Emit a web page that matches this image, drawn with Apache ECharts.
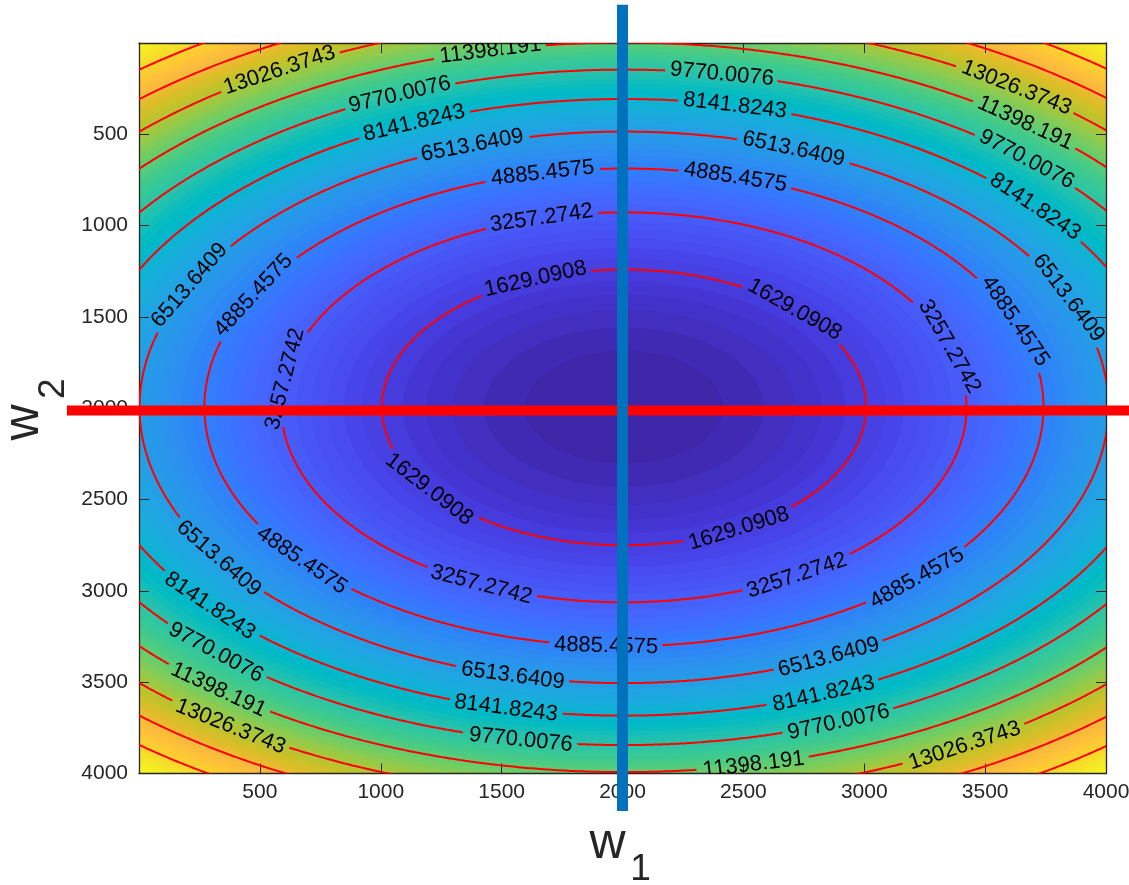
<!DOCTYPE html>
<html>
<head>
<meta charset="utf-8">
<script src="https://cdn.jsdelivr.net/npm/echarts@6/dist/echarts.min.js"></script>
<style>
  html, body { margin: 0; padding: 0; background: #fff; }
  #main { width: 1129px; height: 885px; }
</style>
</head>
<body>
<div id="main"></div>
<script>
// contour values printed on the plot (last two are the unlabelled corner lines)
const contourLevels = [1629.0908, 3257.2742, 4885.4575, 6513.6409, 8141.8243,
  9770.0076, 11398.191, 13026.3743, 14654.5577, 16282.741];
// lowest / highest value of the surface -> colour range
const fieldMin = 0.9074;
const fieldMax = 17910.92;
// filled bands between fieldMin and fieldMax (6 per labelled contour)
const fillBandCount = 66;
// centre of the bowl and half axes (w1, w2) of the first contour
const bowlCentre = [2006, 1995];
const firstContourAxes = [1002, 755];
// axis ticks
const tickValues = [0, 500, 1000, 1500, 2000, 2500, 3000, 3500, 4000];
// where the contour labels sit: [contour index, w1, w2]
const labelAnchors = [
  [0, 1651, 1313], [0, 2689, 1477], [0, 1217, 2435], [0, 2478, 2654],
  [1, 1672, 979], [1, 3326, 1669], [1, 646, 1844], [1, 1416, 2966], [1, 2718, 2912],
  [2, 1672, 721], [2, 2462, 749], [2, 3595, 1532], [2, 493, 1389], [2, 679, 2830], [2, 1932, 3300], [2, 3214, 2928],
  [3, 1382, 568], [3, 2706, 584], [3, 3814, 1406], [3, 233, 1335], [3, 337, 2819], [3, 1548, 3459], [3, 2855, 3366],
  [4, 1143, 447], [4, 2462, 354], [4, 3698, 902], [4, 287, 3087], [4, 1519, 3640], [4, 2834, 3569],
  [5, 1085, 294], [5, 2408, 185], [5, 3669, 639], [5, 316, 3339], [5, 1577, 3826], [5, 2896, 3722],
  [6, 1457, 53], [6, 3657, 447], [6, 328, 3542], [6, 2540, 3941],
  [7, 588, 157], [7, 3620, 256], [7, 378, 3744], [7, 3421, 3855]
];
// the two thick guide lines: [w1 start, w2 start, w1 end, w2 end]
const horizontalGuide = [-298, 2012, 4300, 2012];
const verticalGuide = [2000, -210, 2000, 4205];

// parula, 64 entries
const parulaMap = [
  [0.2422,0.1504,0.6603],[0.2504,0.1650,0.7076],[0.2578,0.1818,0.7511],[0.2647,0.1978,0.7952],
  [0.2706,0.2147,0.8364],[0.2751,0.2342,0.8710],[0.2783,0.2559,0.8991],[0.2803,0.2782,0.9221],
  [0.2813,0.3006,0.9414],[0.2810,0.3228,0.9579],[0.2795,0.3447,0.9717],[0.2760,0.3667,0.9829],
  [0.2699,0.3892,0.9906],[0.2602,0.4123,0.9952],[0.2440,0.4358,0.9988],[0.2206,0.4603,0.9973],
  [0.1963,0.4847,0.9892],[0.1834,0.5074,0.9798],[0.1786,0.5289,0.9682],[0.1764,0.5499,0.9520],
  [0.1687,0.5703,0.9359],[0.1540,0.5902,0.9218],[0.1460,0.6091,0.9079],[0.1380,0.6276,0.8973],
  [0.1248,0.6459,0.8883],[0.1113,0.6635,0.8763],[0.0952,0.6798,0.8598],[0.0689,0.6948,0.8394],
  [0.0297,0.7082,0.8163],[0.0036,0.7203,0.7917],[0.0067,0.7312,0.7660],[0.0433,0.7411,0.7394],
  [0.0964,0.7500,0.7120],[0.1408,0.7584,0.6842],[0.1717,0.7670,0.6554],[0.1938,0.7758,0.6251],
  [0.2161,0.7843,0.5923],[0.2470,0.7918,0.5567],[0.2906,0.7973,0.5188],[0.3406,0.8008,0.4789],
  [0.3909,0.8029,0.4354],[0.4456,0.8024,0.3909],[0.5044,0.7993,0.3480],[0.5616,0.7942,0.3045],
  [0.6174,0.7876,0.2612],[0.6720,0.7793,0.2227],[0.7242,0.7698,0.1910],[0.7738,0.7598,0.1646],
  [0.8203,0.7498,0.1535],[0.8634,0.7406,0.1596],[0.9035,0.7330,0.1774],[0.9393,0.7288,0.2100],
  [0.9728,0.7298,0.2394],[0.9956,0.7434,0.2371],[0.9970,0.7659,0.2199],[0.9952,0.7893,0.2028],
  [0.9892,0.8136,0.1885],[0.9786,0.8386,0.1766],[0.9676,0.8639,0.1643],[0.9610,0.8890,0.1537],
  [0.9597,0.9135,0.1423],[0.9628,0.9373,0.1265],[0.9691,0.9606,0.1064],[0.9769,0.9839,0.0805]
];

function parula(t) {
  t = Math.min(1, Math.max(0, t));
  const x = t * (parulaMap.length - 1);
  const i = Math.min(parulaMap.length - 2, Math.floor(x));
  const f = x - i;
  const c = parulaMap[i].map((v, j) => Math.round(255 * (v + (parulaMap[i + 1][j] - v) * f)));
  return 'rgb(' + c.join(',') + ')';
}

const fontFamily = '"Liberation Sans", Arial, Helvetica, sans-serif';
const labelFont = '22px ' + fontFamily;
const measureCtx = document.createElement('canvas').getContext('2d');
measureCtx.font = labelFont;

const bandStep = (fieldMax - fieldMin) / fillBandCount;
const bandIndex = [];
for (let b = fillBandCount; b >= 1; b--) bandIndex.push(b);

// half axes of the ellipse where the surface equals `level`
function ellipseAxes(level) {
  const s = Math.sqrt((level - fieldMin) / (contourLevels[0] - fieldMin));
  return [firstContourAxes[0] * s, firstContourAxes[1] * s];
}

function renderBand(params, api) {
  const b = bandIndex[params.dataIndex];
  const r = ellipseAxes(fieldMin + b * bandStep);
  const pts = [];
  const n = 360;
  for (let i = 0; i < n; i++) {
    const t = i / n * 2 * Math.PI;
    pts.push(api.coord([bowlCentre[0] + r[0] * Math.cos(t), bowlCentre[1] + r[1] * Math.sin(t)]));
  }
  return {
    type: 'polygon',
    shape: { points: pts },
    style: { fill: parula((b - 1) / fillBandCount), stroke: null }
  };
}

function renderContour(params, api) {
  const k = params.dataIndex;
  const level = contourLevels[k];
  const r = ellipseAxes(level);
  const cx = bowlCentre[0], cy = bowlCentre[1];
  const at = t => api.coord([cx + r[0] * Math.cos(t), cy + r[1] * Math.sin(t)]);
  const text = String(level);
  const halfW = measureCtx.measureText(text).width / 2 + 4;
  const halfH = 10;
  const boxes = [];
  const texts = [];
  labelAnchors.forEach(a => {
    if (a[0] !== k) return;
    const t = Math.atan2((a[2] - cy) / r[1], (a[1] - cx) / r[0]);
    const p = at(t);
    const p1 = at(t - 0.002), p2 = at(t + 0.002);
    let dx = p2[0] - p1[0], dy = p2[1] - p1[1];
    if (dx < 0) { dx = -dx; dy = -dy; }
    const len = Math.hypot(dx, dy);
    const ux = dx / len, uy = dy / len;
    boxes.push({ p: p, ux: ux, uy: uy });
    texts.push({
      type: 'text',
      x: p[0], y: p[1],
      rotation: -Math.atan2(uy, ux),
      z2: 10,
      style: { text: text, font: labelFont, fill: '#000', textAlign: 'center', textVerticalAlign: 'middle' }
    });
  });

  const n = 1440;
  const runs = [];
  let run = [];
  let firstStart = false, lastEnd = false;
  for (let i = 0; i <= n; i++) {
    const q = at(i / n * 2 * Math.PI);
    const hidden = boxes.some(bx => {
      const ex = q[0] - bx.p[0], ey = q[1] - bx.p[1];
      return Math.abs(ex * bx.ux + ey * bx.uy) < halfW && Math.abs(-ex * bx.uy + ey * bx.ux) < halfH;
    });
    if (hidden) {
      if (run.length > 1) runs.push(run);
      run = [];
    } else {
      if (i === 0) firstStart = true;
      run.push(q);
      if (i === n) lastEnd = true;
    }
  }
  if (run.length > 1) runs.push(run);
  if (firstStart && lastEnd && runs.length > 1) {
    const last = runs.pop();
    runs[0] = last.concat(runs[0].slice(1));
  }
  const lines = runs.map(pts => ({
    type: 'polyline',
    shape: { points: pts },
    style: { stroke: '#ff0000', lineWidth: 2, fill: null }
  }));
  return { type: 'group', children: lines.concat(texts) };
}

// thick guide line from one data point to another, not clipped to the axes box
function renderGuide(params, api) {
  const a = api.coord([api.value(0), api.value(1)]);
  const b = api.coord([api.value(2), api.value(3)]);
  return {
    type: 'line',
    shape: { x1: a[0], y1: a[1], x2: b[0], y2: b[1] },
    style: { stroke: params.dataIndex === 0 ? '#ff0000' : '#0072bd', lineWidth: params.dataIndex === 0 ? 10 : 11, lineCap: 'butt' }
  };
}

const axisCommon = {
  type: 'value',
  min: tickValues[0],
  max: tickValues[tickValues.length - 1],
  interval: tickValues[1] - tickValues[0],
  z: 3,
  splitLine: { show: false },
  axisLine: { show: true, onZero: false, lineStyle: { color: '#262626', width: 1.3 } },
  axisTick: { show: true, inside: true, length: 10, lineStyle: { color: '#262626', width: 1 } }
};
const tickLabel = {
  fontSize: 21,
  fontFamily: fontFamily,
  color: '#262626',
  formatter: v => (v === 0 ? '' : String(v))
};

const chart = echarts.init(document.getElementById('main'), null, { renderer: 'canvas' });
chart.setOption({
  animation: false,
  backgroundColor: '#fff',
  grid: {
    left: 139, top: 43, width: 967, height: 730.5,
    show: true, borderWidth: 0, backgroundColor: parula(1),
    outerBoundsMode: 'none'
  },
  xAxis: [
    Object.assign({}, axisCommon, { position: 'bottom', axisLabel: Object.assign({ margin: 8 }, tickLabel) }),
    Object.assign({}, axisCommon, { position: 'top', axisLabel: { show: false } })
  ],
  yAxis: [
    Object.assign({}, axisCommon, { position: 'left', inverse: true, axisLabel: Object.assign({ margin: 11 }, tickLabel) }),
    Object.assign({}, axisCommon, { position: 'right', inverse: true, axisLabel: { show: false } })
  ],
  graphic: [
    { type: 'text', x: 607.5, y: 844.7, z: 100, style: { text: 'w', font: '50px ' + fontFamily, fill: '#262626', textAlign: 'center', textVerticalAlign: 'middle' } },
    { type: 'text', x: 640.5, y: 870, z: 100, style: { text: '1', font: '37px ' + fontFamily, fill: '#262626', textAlign: 'center', textVerticalAlign: 'middle' } },
    { type: 'text', x: 24.4, y: 422.5, rotation: Math.PI / 2, z: 100, style: { text: 'w', font: '50px ' + fontFamily, fill: '#262626', textAlign: 'center', textVerticalAlign: 'middle' } },
    { type: 'text', x: 53.9, y: 388.6, rotation: Math.PI / 2, z: 100, style: { text: '2', font: '37px ' + fontFamily, fill: '#262626', textAlign: 'center', textVerticalAlign: 'middle' } }
  ],
  series: [
    {
      name: 'fill',
      type: 'custom',
      z: 1,
      clip: true,
      silent: true,
      data: bandIndex,
      renderItem: renderBand
    },
    {
      name: 'contours',
      type: 'custom',
      z: 4,
      clip: true,
      silent: true,
      data: contourLevels,
      renderItem: renderContour
    },
    {
      name: 'guides',
      type: 'custom',
      z: 6,
      clip: false,
      silent: true,
      data: [horizontalGuide, verticalGuide],
      renderItem: renderGuide
    }
  ]
});
</script>
</body>
</html>
